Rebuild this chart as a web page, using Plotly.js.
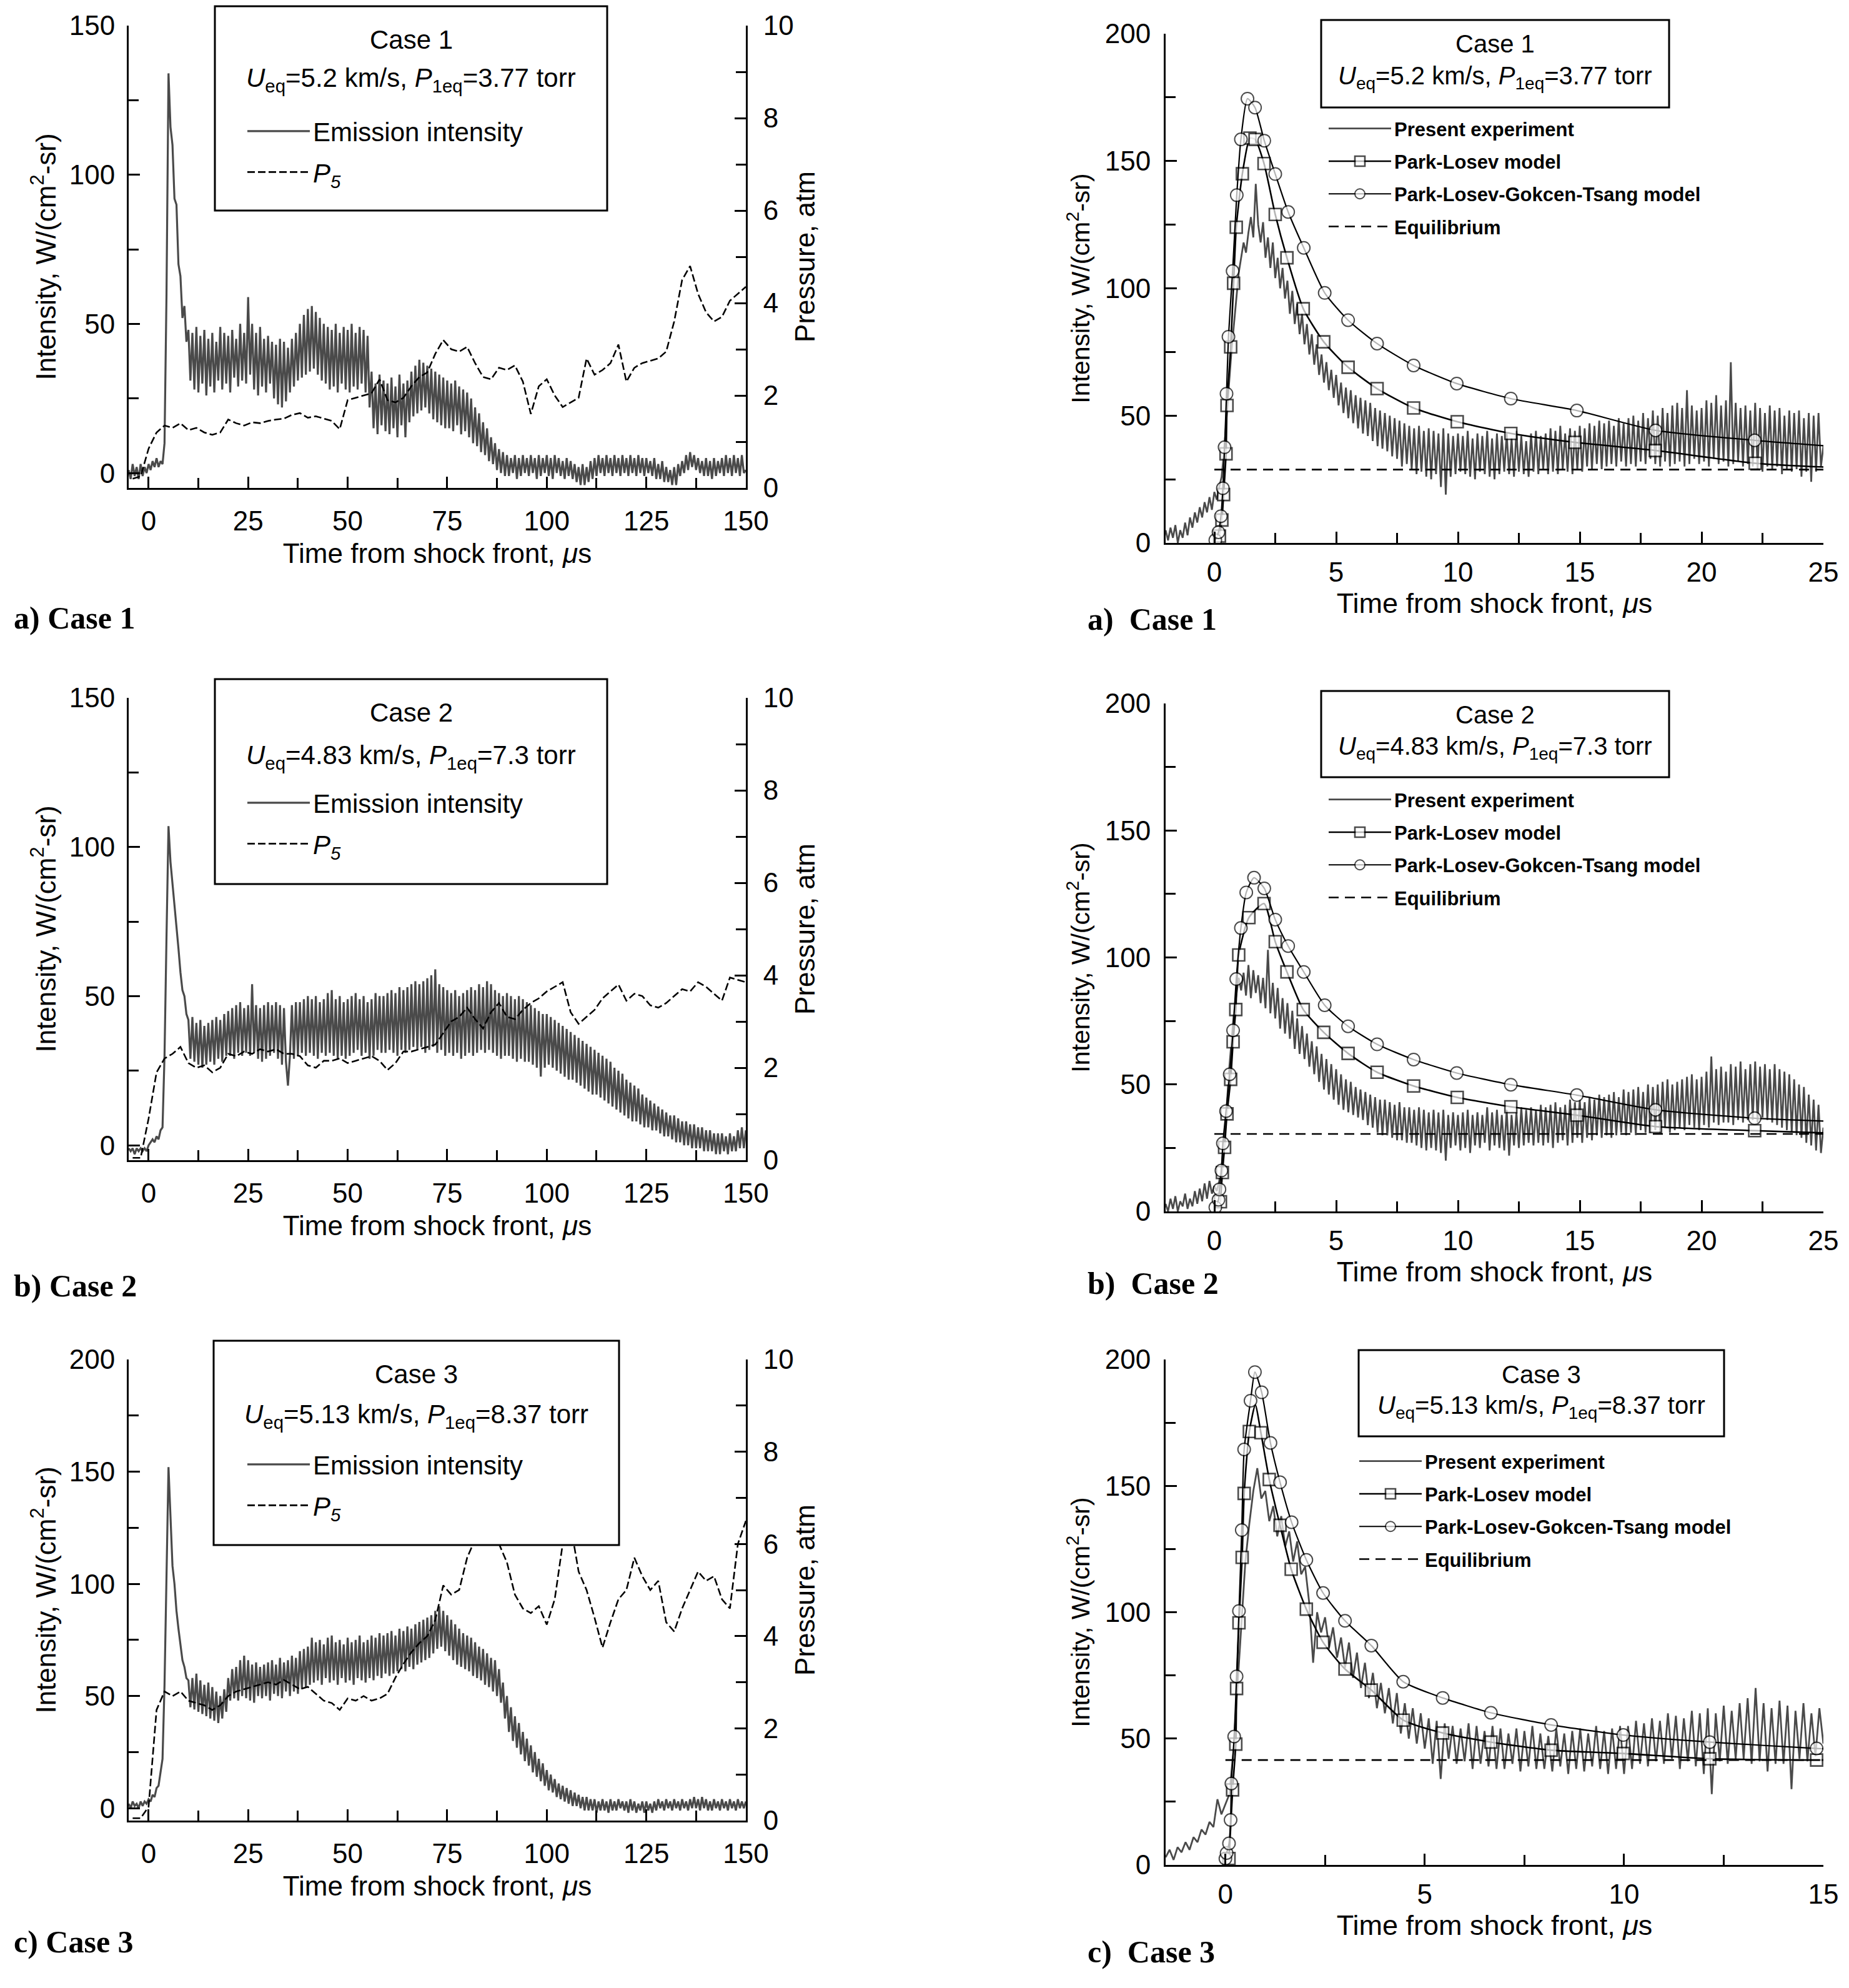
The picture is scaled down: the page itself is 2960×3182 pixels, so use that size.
<!DOCTYPE html>
<html>
<head>
<meta charset="utf-8">
<script src="https://cdn.plot.ly/plotly-3.0.1.min.js"></script>
<style>
	html, body { margin: 0; padding: 0; background: #fff; }
	#chart { width: 2960px; height: 3182px; }
</style>
</head>
<body>
<div id="chart"></div>
<script>
// ---- values ----
// left column: emission intensity, one sample every 0.5 us from t = -5 (one row = 5 us)
const case1Emission = [
	1, -2, 3, -1, 2, -2, 3, -1, 2, 0,
	3, 1, 4, 2, 5, 2, 4, 3, 10, 60,
	134, 116, 110, 92, 90, 70, 66, 52, 56, 44,
	48, 31, 47, 28, 49, 27, 46, 30, 48, 26,
	45, 29, 47, 27, 44, 31, 49, 28, 47, 30,
	46, 27, 48, 32, 45, 29, 50, 31, 47, 30,
	59, 33, 50, 28, 47, 26, 49, 29, 45, 27,
	46, 30, 44, 25, 43, 23, 45, 22, 44, 24,
	42, 27, 45, 29, 47, 31, 50, 32, 53, 33,
	55, 34, 56, 35, 54, 33, 52, 31, 50, 30,
	49, 28, 48, 29, 50, 27, 47, 30, 49, 28,
	48, 27, 50, 29, 47, 28, 49, 30, 48, 27,
	46, 22, 34, 15, 30, 13, 33, 16, 31, 14,
	30, 13, 32, 15, 29, 12, 33, 16, 30, 12,
	31, 17, 34, 19, 36, 20, 38, 21, 37, 22,
	36, 20, 35, 18, 34, 17, 33, 16, 32, 15,
	31, 15, 30, 14, 31, 16, 29, 13, 28, 14,
	27, 12, 25, 10, 22, 9, 20, 7, 17, 6,
	15, 4, 12, 3, 10, 1, 8, 0, 7, -1,
	6, -1, 5, 0, 6, -2, 5, -1, 6, 0,
	5, -1, 6, 0, 5, -2, 6, -1, 5, 0,
	6, -1, 5, -2, 6, 0, 5, -1, 4, -2,
	5, -1, 4, -2, 3, -3, 2, -4, 3, -4,
	2, -3, 4, -2, 5, -1, 6, 0, 5, -1,
	6, 0, 5, -1, 6, 0, 5, -1, 6, 0,
	5, -1, 6, 0, 5, -1, 6, 0, 5, -1,
	5, 0, 4, -1, 5, -2, 3, -2, 4, -3,
	2, -3, 1, -4, 2, -4, 3, -1, 4, 0,
	6, 1, 7, 2, 6, 1, 5, 0, 4, -1,
	5, -1, 4, -2, 5, -1, 4, 0, 5, -1,
	6, 0, 5, -1, 6, 0, 5, -1, 6, 0,
	1,
];
const case2Emission = [
	-1, -2, -1, -3, -1, -2, -1, -2, -1, -2,
	0, 1, 2, 1, 3, 2, 5, 6, 30, 70,
	107, 95, 88, 80, 74, 66, 58, 52, 50, 44,
	42, 29, 43, 28, 41, 27, 42, 26, 40, 27,
	41, 28, 42, 27, 43, 29, 42, 28, 44, 30,
	45, 30, 46, 29, 47, 31, 48, 30, 46, 31,
	47, 30, 54, 31, 47, 29, 46, 28, 47, 29,
	48, 30, 47, 31, 48, 29, 47, 27, 46, 28,
	20, 30, 47, 29, 48, 30, 48, 31, 49, 30,
	50, 31, 49, 30, 50, 29, 48, 31, 49, 30,
	51, 31, 52, 30, 49, 29, 50, 30, 48, 29,
	49, 30, 50, 31, 51, 32, 49, 30, 50, 31,
	48, 29, 49, 30, 51, 32, 50, 31, 50, 31,
	51, 32, 52, 31, 51, 30, 53, 32, 52, 31,
	53, 32, 54, 33, 55, 32, 54, 33, 55, 31,
	56, 32, 57, 33, 59, 31, 54, 32, 53, 30,
	52, 31, 51, 30, 52, 31, 50, 29, 51, 30,
	52, 31, 53, 30, 52, 31, 54, 32, 53, 31,
	55, 32, 54, 31, 52, 30, 51, 29, 50, 30,
	51, 30, 50, 29, 49, 28, 50, 29, 49, 28,
	48, 28, 47, 27, 46, 26, 45, 23, 44, 26,
	44, 27, 43, 26, 42, 25, 41, 24, 40, 23,
	39, 22, 38, 22, 37, 21, 36, 20, 35, 19,
	34, 18, 33, 17, 32, 17, 31, 16, 30, 15,
	29, 14, 28, 13, 26, 12, 25, 11, 24, 10,
	22, 9, 21, 8, 20, 8, 19, 7, 17, 6,
	16, 6, 15, 5, 14, 5, 13, 4, 12, 3,
	11, 3, 10, 2, 10, 1, 9, 1, 8, 0,
	8, 0, 7, -1, 7, -1, 6, -1, 6, -2,
	5, -2, 5, -2, 4, -3, 4, -3, 4, -2,
	3, -3, 4, -2, 3, -2, 5, -1, 6, -1,
	5,
];
const case3Emission = [
	2, 0, 3, 1, 2, 0, 3, 1, 3, 2,
	4, 3, 6, 5, 9, 10, 16, 22, 55, 110,
	152, 130, 108, 100, 88, 80, 72, 66, 63, 58,
	57, 45, 58, 44, 60, 43, 57, 42, 55, 41,
	56, 40, 54, 39, 52, 38, 50, 40, 53, 43,
	58, 48, 62, 49, 63, 48, 66, 50, 68, 49,
	66, 48, 64, 47, 65, 50, 63, 49, 64, 50,
	65, 48, 66, 51, 64, 50, 67, 49, 65, 52,
	66, 50, 68, 52, 67, 51, 70, 53, 71, 54,
	72, 55, 76, 56, 74, 57, 75, 55, 73, 58,
	76, 56, 77, 57, 74, 55, 75, 58, 73, 56,
	76, 57, 74, 55, 75, 58, 77, 57, 74, 56,
	75, 58, 77, 57, 76, 59, 78, 58, 77, 60,
	78, 59, 79, 60, 77, 61, 80, 62, 79, 61,
	81, 63, 80, 62, 82, 64, 83, 65, 84, 66,
	85, 67, 86, 69, 88, 71, 90, 72, 88, 70,
	86, 68, 84, 66, 82, 64, 80, 63, 78, 62,
	77, 61, 76, 59, 74, 58, 72, 57, 71, 55,
	69, 54, 67, 52, 66, 50, 62, 47, 56, 40,
	50, 34, 45, 30, 41, 27, 38, 24, 34, 21,
	31, 19, 28, 16, 25, 14, 22, 12, 20, 10,
	17, 8, 15, 7, 13, 5, 11, 4, 10, 3,
	9, 2, 8, 1, 7, 1, 6, 0, 5, -1,
	5, -1, 4, -1, 4, -2, 3, -1, 4, -1,
	3, -2, 4, -1, 3, -1, 4, 0, 3, -1,
	3, -2, 4, -1, 3, -2, 2, -1, 3, -2,
	3, -1, 2, -2, 3, -1, 4, 0, 3, -1,
	4, 0, 3, -1, 4, 0, 3, -1, 4, 0,
	3, -1, 4, 0, 5, 0, 4, -1, 5, 0,
	4, -1, 3, -1, 4, 0, 3, -1, 4, 0,
	3, -1, 4, 0, 3, -1, 4, 0, 3, 0,
	3,
];

// left column: P5 pressure (atm), one sample every 2 us from t = -4
const case1Pressure = [
	0.2, 0.25, 0.85, 1.2, 1.35, 1.3, 1.4, 1.25, 1.3, 1.2,
	1.15, 1.2, 1.48, 1.4, 1.35, 1.42, 1.4, 1.45, 1.48, 1.5,
	1.58, 1.62, 1.52, 1.55, 1.5, 1.45, 1.27, 1.9, 1.95, 2.0,
	2.05, 2.35, 1.9, 1.85, 1.95, 2.2, 2.4, 2.5, 2.9, 3.2,
	3.0, 2.95, 3.05, 2.7, 2.4, 2.35, 2.6, 2.55, 2.65, 2.3,
	1.6, 2.2, 2.35, 2.0, 1.75, 1.85, 1.95, 2.8, 2.45, 2.55,
	2.7, 3.1, 2.3, 2.6, 2.7, 2.75, 2.8, 2.95, 3.6, 4.5,
	4.8, 4.2, 3.8, 3.6, 3.7, 4.05, 4.2, 4.35,
];
const case2Pressure = [
	0.05, 0.05, 0.9, 1.9, 2.2, 2.3, 2.45, 2.1, 2.0, 2.05,
	1.9, 2.0, 2.3, 2.25, 2.35, 2.3, 2.4, 2.35, 2.4, 2.3,
	2.3, 2.25, 2.05, 2.0, 2.15, 2.15, 2.2, 2.1, 2.15, 2.2,
	2.25, 2.15, 1.95, 2.1, 2.35, 2.35, 2.4, 2.45, 2.5, 2.75,
	3.0, 3.1, 3.3, 3.05, 2.85, 3.2, 3.4, 3.1, 3.05, 3.25,
	3.4, 3.5, 3.65, 3.75, 3.85, 3.2, 2.95, 3.1, 3.25, 3.5,
	3.65, 3.8, 3.45, 3.6, 3.55, 3.35, 3.3, 3.4, 3.55, 3.7,
	3.65, 3.85, 3.75, 3.6, 3.45, 3.95, 3.9, 3.85,
];
const case3Pressure = [
	0.05, 0.05, 0.3, 2.4, 2.8, 2.7, 2.8, 2.6, 2.55, 2.5,
	2.4, 2.5, 2.7, 2.8, 2.85, 2.9, 2.95, 3.0, 2.95, 3.05,
	2.95, 2.85, 2.9, 2.75, 2.6, 2.55, 2.4, 2.65, 2.6, 2.7,
	2.6, 2.65, 2.75, 3.1, 3.4, 3.65, 3.85, 4.0, 4.35, 5.1,
	4.9, 5.0, 5.7, 6.1, 6.5, 6.3, 6.0, 5.6, 4.9, 4.6,
	4.5, 4.65, 4.25, 4.8, 6.0, 6.4, 5.4, 5.0, 4.4, 3.75,
	4.3, 4.8, 5.0, 5.7, 5.3, 5.0, 5.2, 4.3, 4.1, 4.6,
	5.0, 5.4, 5.2, 5.3, 4.8, 4.6, 6.0, 6.5,
];

// right column: present experiment, every 0.1 us (one row = 1 us)
// cases 1 and 2 start at t = -2
const case1Experiment = [
	5, 1, 6, 2, 7, 0, 5, 2, 8, 3,
	10, 6, 12, 8, 14, 10, 16, 12, 18, 13,
	20, 17, 22, 26, 36, 48, 62, 75, 85, 96,
	106, 112, 118, 114, 122, 128, 120, 141, 125, 118,
	126, 112, 120, 108, 118, 104, 112, 100, 108, 96,
	103, 90, 99, 86, 94, 82, 90, 78, 86, 74,
	82, 70, 78, 66, 74, 63, 71, 60, 68, 57,
	66, 54, 63, 51, 61, 49, 60, 47, 58, 45,
	57, 43, 56, 42, 55, 40, 53, 38, 52, 37,
	51, 36, 50, 34, 49, 33, 48, 30, 47, 31,
	46, 29, 45, 27, 46, 28, 44, 26, 45, 25,
	44, 27, 43, 22, 45, 19, 43, 26, 42, 27,
	43, 28, 42, 27, 44, 26, 41, 25, 43, 28,
	42, 27, 44, 26, 41, 25, 43, 27, 42, 28,
	43, 27, 41, 26, 44, 28, 42, 27, 40, 26,
	43, 28, 44, 27, 42, 29, 43, 27, 45, 28,
	44, 27, 46, 29, 43, 28, 45, 27, 44, 29,
	46, 28, 45, 30, 47, 29, 46, 31, 48, 29,
	47, 30, 48, 31, 46, 30, 49, 32, 47, 30,
	49, 31, 50, 30, 48, 32, 51, 31, 49, 33,
	52, 31, 50, 30, 53, 32, 51, 30, 54, 31,
	55, 32, 53, 30, 60, 31, 54, 33, 52, 31,
	53, 32, 56, 30, 55, 33, 58, 31, 54, 32,
	56, 30, 71, 31, 55, 32, 53, 30, 54, 31,
	52, 30, 55, 29, 53, 28, 51, 30, 54, 29,
	52, 30, 53, 27, 50, 29, 52, 28, 51, 29,
	52, 26, 49, 28, 51, 24, 50, 28, 51, 30,
	38,
];
const case2Experiment = [
	3, 0, 5, 1, 6, 0, 4, 2, 7, 1,
	5, 2, 8, 3, 9, 4, 11, 5, 12, 7,
	10, 8, 12, 18, 28, 40, 55, 66, 78, 85,
	92, 87, 94, 85, 97, 84, 95, 86, 93, 82,
	92, 80, 103, 78, 90, 76, 88, 72, 84, 70,
	82, 68, 79, 64, 76, 62, 73, 60, 70, 57,
	67, 54, 65, 51, 62, 48, 60, 46, 58, 44,
	56, 42, 54, 40, 52, 39, 51, 38, 49, 37,
	48, 36, 47, 34, 46, 33, 45, 31, 44, 30,
	44, 30, 43, 29, 42, 28, 43, 28, 41, 27,
	41, 27, 40, 26, 41, 25, 40, 24, 39, 25,
	40, 24, 39, 23, 40, 20, 38, 25, 39, 26,
	38, 24, 39, 25, 40, 23, 38, 26, 39, 25,
	38, 27, 41, 24, 39, 26, 40, 25, 38, 24,
	40, 22, 38, 26, 39, 25, 41, 26, 40, 27,
	41, 26, 40, 27, 42, 26, 41, 27, 42, 25,
	43, 27, 41, 28, 42, 26, 44, 27, 43, 29,
	44, 27, 43, 29, 45, 28, 44, 30, 46, 29,
	45, 30, 46, 29, 47, 30, 45, 31, 48, 30,
	47, 31, 48, 30, 49, 32, 47, 31, 50, 31,
	49, 32, 50, 31, 51, 33, 52, 31, 50, 32,
	51, 33, 52, 32, 53, 34, 54, 33, 52, 32,
	53, 34, 55, 33, 61, 35, 56, 34, 57, 35,
	55, 35, 58, 34, 57, 36, 59, 35, 56, 36,
	58, 36, 59, 35, 57, 37, 58, 36, 56, 35,
	58, 34, 56, 33, 55, 32, 54, 31, 52, 30,
	50, 29, 49, 27, 46, 26, 44, 24, 42, 23,
	33,
];
// case 3 starts at t = -1.5 (first row is half a microsecond)
const case3Experiment = [
	3, 6, 2, 7, 5,
	9, 6, 11, 9, 14, 12, 17, 15, 26, 20,
	24, 28, 45, 70, 95, 120, 135, 148, 157, 145,
	148, 136, 142, 130, 138, 126, 132, 120, 128, 115,
	118, 104, 80, 100, 92, 98, 86, 94, 82, 90,
	78, 88, 74, 84, 70, 80, 66, 76, 62, 72,
	60, 70, 56, 68, 52, 64, 50, 62, 48, 60,
	46, 58, 40, 57, 34, 56, 42, 55, 40, 54,
	41, 56, 38, 55, 40, 53, 39, 55, 38, 54,
	38, 52, 40, 54, 37, 53, 39, 55, 38, 52,
	38, 51, 37, 54, 39, 52, 36, 53, 38, 54,
	37, 52, 39, 55, 38, 53, 36, 54, 38, 55,
	36, 55, 38, 57, 40, 56, 39, 58, 41, 57,
	40, 60, 42, 59, 38, 58, 41, 61, 39, 60,
	36, 62, 28, 60, 41, 63, 40, 61, 42, 64,
	42, 66, 40, 70, 41, 64, 37, 62, 40, 65,
	40, 63, 30, 61, 42, 64, 41, 60, 43, 62,
	48,
];

// model curves: points along each line; the listed indices are line vertices without a marker
const case1ParkLosevT = [0.21, 0.31, 0.38, 0.48, 0.52, 0.67, 0.79, 0.9, 1.15, 1.46, 1.67, 2.04, 2.5, 2.98, 3.65, 4.49, 5.49, 6.68, 8.18, 9.97, 12.17, 14.8, 18.1, 22.2, 25];
const case1ParkLosev = [2.7, 9, 19, 35, 54, 77, 102, 124, 145, 159, 158.5, 149, 129, 112, 92, 79, 69, 60.6, 53, 47.6, 43, 39.5, 36.3, 31.3, 29.8];
const case1ParkLosevBare = [24];
const case1PlgtT = [0.04, 0.17, 0.27, 0.35, 0.42, 0.5, 0.58, 0.75, 0.92, 1.09, 1.36, 1.67, 2.05, 2.5, 3.03, 3.67, 4.53, 5.49, 6.68, 8.18, 9.95, 12.17, 14.88, 18.11, 22.18, 25];
const case1Plgt = [1.1, 4.2, 10.5, 21.5, 37.6, 58.6, 81, 106.8, 136.6, 158.5, 174.5, 171, 158, 144.9, 130, 115.9, 98.2, 87.5, 78.3, 69.7, 62.6, 56.7, 52, 44.2, 40.3, 38.2];
const case1PlgtBare = [25];

const case2ParkLosevT = [0.25, 0.33, 0.42, 0.52, 0.67, 0.77, 0.88, 1.0, 1.42, 2.04, 2.5, 2.98, 3.65, 4.49, 5.49, 6.68, 8.18, 9.97, 12.17, 14.88, 18.11, 22.18, 25];
const case2ParkLosev = [3.8, 15.3, 25.2, 38.4, 52, 66.8, 79.5, 101, 115.7, 121.2, 106.2, 94.3, 79.5, 70.5, 62.2, 54.8, 49.4, 44.9, 41.2, 37.9, 33.4, 31.8, 30.9];
const case2ParkLosevBare = [22];
const case2PlgtT = [0.04, 0.17, 0.21, 0.29, 0.35, 0.48, 0.63, 0.77, 0.9, 1.09, 1.31, 1.63, 2.05, 2.5, 3.03, 3.67, 4.53, 5.49, 6.68, 8.18, 9.95, 12.17, 14.88, 18.11, 22.18, 25];
const case2Plgt = [1.6, 4.6, 8.7, 16.1, 26.8, 39.5, 54, 71.3, 91.5, 111.6, 125.6, 131.4, 127.2, 114.9, 104.5, 94.3, 81.2, 72.9, 65.8, 59.8, 54.5, 49.9, 45.8, 40, 36.7, 35.6];
const case2PlgtBare = [25];

const case3ParkLosevT = [0.09, 0.18, 0.26, 0.28, 0.34, 0.42, 0.47, 0.6, 0.75, 0.89, 1.1, 1.37, 1.65, 2.03, 2.45, 3.0, 3.66, 4.46, 5.45, 6.66, 8.17, 9.98, 12.15, 14.83, 15];
const case3ParkLosev = [2.5, 29.7, 47.8, 69.8, 95.8, 121.7, 147, 171.5, 182, 171, 152.5, 134.4, 117, 101.2, 88.1, 77.5, 69.2, 57.3, 52.2, 48.6, 45.4, 44.1, 42, 41.5, 41.5];
const case3ParkLosevBare = [8, 24];
const case3PlgtT = [0.0, 0.03, 0.09, 0.13, 0.15, 0.22, 0.28, 0.34, 0.41, 0.47, 0.63, 0.74, 0.91, 1.13, 1.37, 1.66, 2.03, 2.45, 3.0, 3.66, 4.46, 5.45, 6.66, 8.17, 9.98, 12.15, 14.83, 15];
const case3Plgt = [2.5, 4.7, 8.5, 17.8, 32.2, 50.8, 74.6, 100.5, 132.5, 164.4, 183.7, 195, 187, 167, 151.4, 135.6, 120.7, 107.6, 96.6, 86.8, 72.5, 66.1, 60.2, 55.4, 51.4, 48.6, 46.1, 46];
const case3PlgtBare = [27];

const equilibriumT = [[0, 25], [0, 25], [0, 15]];
const equilibrium = [28.8, 30.5, 41.5];

const caseNames = ['Case 1', 'Case 2', 'Case 3'];
const caseConditions = [
	'<i>U</i><sub>eq</sub>=5.2 km/s, <i>P</i><sub>1eq</sub>=3.77 torr',
	'<i>U</i><sub>eq</sub>=4.83 km/s, <i>P</i><sub>1eq</sub>=7.3 torr',
	'<i>U</i><sub>eq</sub>=5.13 km/s, <i>P</i><sub>1eq</sub>=8.37 torr',
];
const panelLetters = ['a)', 'b)', 'c)'];

// ---- page geometry (pixels) ----
const W = 2960;
const H = 3182;
const px = (x) => x / W;
const py = (y) => 1 - y / H;

const FONT = 'Liberation Sans, Arial, sans-serif';
const SERIF = 'Liberation Serif, Times New Roman, serif';
const GREY = '#4a4a4a';

const leftCol = [206, 1194];
const rightCol = [1866, 2919];
const leftRows = [[41, 781], [1117, 1857], [2176, 2914]];
const rightRows = [[54, 869], [1126, 1939], [2176, 2985]];

function sampleTimes(start, step, n) {
	return Array.from({ length: n }, (_, i) => +(start + i * step).toFixed(4));
}

function markerSizes(n, size, bare) {
	return Array.from({ length: n }, (_, i) => (bare.includes(i) ? 0 : size));
}

function axis(extra) {
	return Object.assign(
		{
			showline: true,
			linecolor: '#000',
			linewidth: 3,
			ticks: 'inside',
			ticklen: 18,
			tickwidth: 3,
			tickcolor: '#000',
			showgrid: false,
			zeroline: false,
			fixedrange: true,
			tickfont: { family: FONT, size: 44, color: '#000' },
		},
		extra
	);
}

function minor(dtick) {
	return { dtick, ticks: 'inside', ticklen: 16, tickwidth: 3, tickcolor: '#000', showgrid: false };
}

const timeTitle = 'Time from shock front, <i>μ</i>s';
const intensityTitle = 'Intensity, W/(cm<sup>2</sup>-sr)';

const data = [];
const layout = {
	width: W,
	height: H,
	margin: { l: 0, r: 0, t: 0, b: 0 },
	paper_bgcolor: '#fff',
	plot_bgcolor: 'rgba(0,0,0,0)',
	font: { family: FONT, color: '#000', size: 40 },
	showlegend: true,
	shapes: [],
	annotations: [],
};

const leftEmission = [case1Emission, case2Emission, case3Emission];
const leftPressure = [case1Pressure, case2Pressure, case3Pressure];
const leftYRange = [[-5, 150], [-5, 150], [-5.5, 200]];
const leftBoxes = [[344, 10, 972, 337], [344, 1087, 972, 1415], [342, 2146, 991, 2473]];
const leftTextY = [[64, 128], [1140, 1211], [2199, 2266]];
const leftLegendTop = [176, 1251, 2310];
const leftLabelY = [989, 2058, 3108];

leftRows.forEach((row, i) => {
	const xId = i === 0 ? 'x' : 'x' + (i + 1);
	const yId = 'y' + (2 * i + 1 === 1 ? '' : 2 * i + 1);
	const y2Id = 'y' + (2 * i + 2);
	const legendId = i === 0 ? 'legend' : 'legend' + (i + 1);
	const box = leftBoxes[i];

	data.push({
		type: 'scatter',
		mode: 'lines',
		x: sampleTimes(-5, 0.5, leftEmission[i].length),
		y: leftEmission[i],
		xaxis: xId,
		yaxis: yId,
		name: 'Emission intensity',
		line: { color: GREY, width: 3.2 },
		legend: legendId,
		legendgroup: legendId + 'e',
		hoverinfo: 'skip',
	});
	data.push({
		type: 'scatter',
		mode: 'lines',
		x: sampleTimes(-4, 2, leftPressure[i].length),
		y: leftPressure[i],
		xaxis: xId,
		yaxis: y2Id,
		name: '<i>P</i><sub><i>5</i></sub>',
		line: { color: '#000', width: 2.6, dash: '12px,5px' },
		legend: legendId,
		legendgroup: legendId + 'p',
		hoverinfo: 'skip',
	});

	layout[xId.replace('x', 'xaxis')] = axis({
		domain: [px(leftCol[0]), px(leftCol[1])],
		anchor: yId,
		range: [-5, 150],
		tick0: 0,
		dtick: 25,
		minor: minor(12.5),
		ticklabelstandoff: 12,
		title: { text: timeTitle, font: { family: FONT, size: 44 }, standoff: 14 },
	});
	layout[yId.replace('y', 'yaxis')] = axis({
		domain: [py(row[1]), py(row[0])],
		anchor: xId,
		range: leftYRange[i],
		tick0: 0,
		dtick: 50,
		minor: minor(25),
		ticklabelstandoff: 10,
		title: { text: intensityTitle, font: { family: FONT, size: 44 }, standoff: 8 },
	});
	layout[y2Id.replace('y', 'yaxis')] = axis({
		overlaying: yId,
		side: 'right',
		anchor: xId,
		range: [0, 10],
		tick0: 0,
		dtick: 2,
		minor: minor(1),
		ticklabelstandoff: 16,
		title: { text: 'Pressure, atm', font: { family: FONT, size: 44 }, standoff: 4 },
	});

	layout[legendId] = {
		x: px(391),
		y: py(leftLegendTop[i]),
		xanchor: 'left',
		yanchor: 'top',
		xref: 'paper',
		yref: 'paper',
		bgcolor: 'rgba(0,0,0,0)',
		borderwidth: 0,
		itemwidth: 100,
		traceorder: 'grouped',
		tracegroupgap: 8,
		font: { family: FONT, size: 42, color: '#000' },
	};

	layout.shapes.push({
		type: 'rect',
		xref: 'paper',
		yref: 'paper',
		x0: px(box[0]),
		x1: px(box[2]),
		y0: py(box[3]),
		y1: py(box[1]),
		line: { color: '#000', width: 3 },
		fillcolor: '#fff',
		layer: 'above',
	});
	const cx = px((box[0] + box[2]) / 2);
	layout.annotations.push(
		{ text: caseNames[i], x: cx, y: py(leftTextY[i][0]), xref: 'paper', yref: 'paper', showarrow: false, xanchor: 'center', yanchor: 'middle', font: { family: FONT, size: 42 } },
		{ text: caseConditions[i], x: cx, y: py(leftTextY[i][1]), xref: 'paper', yref: 'paper', showarrow: false, xanchor: 'center', yanchor: 'middle', font: { family: FONT, size: 42 } },
		{ text: panelLetters[i] + ' ' + caseNames[i], x: px(20), y: py(leftLabelY[i]), xref: 'paper', yref: 'paper', showarrow: false, xanchor: 'left', yanchor: 'middle', font: { family: SERIF, size: 50, weight: 'bold' } }
	);
});

const rightExperiment = [case1Experiment, case2Experiment, case3Experiment];
const rightStart = [-2, -2, -1.5];
const rightXRange = [[-2, 25], [-2, 25], [-1.5, 15]];
const parkLosevT = [case1ParkLosevT, case2ParkLosevT, case3ParkLosevT];
const parkLosev = [case1ParkLosev, case2ParkLosev, case3ParkLosev];
const parkLosevBare = [case1ParkLosevBare, case2ParkLosevBare, case3ParkLosevBare];
const plgtT = [case1PlgtT, case2PlgtT, case3PlgtT];
const plgt = [case1Plgt, case2Plgt, case3Plgt];
const plgtBare = [case1PlgtBare, case2PlgtBare, case3PlgtBare];
const rightBoxes = [[2115, 32, 2672, 172], [2115, 1106, 2672, 1244], [2175, 2161, 2760, 2299]];
const rightTextY = [[70, 124], [1144, 1197], [2200, 2252]];
const rightLegend = [[2122, 179], [2122, 1253], [2171, 2312]];
const rightLabelY = [991, 2054, 3124];

rightRows.forEach((row, i) => {
	const n = i + 4;
	const xId = 'x' + n;
	const yId = 'y' + (n + 3);
	const legendId = 'legend' + n;
	const box = rightBoxes[i];
	const common = { type: 'scatter', xaxis: xId, yaxis: yId, legend: legendId, hoverinfo: 'skip' };

	data.push(Object.assign({}, common, {
		mode: 'lines',
		x: sampleTimes(rightStart[i], 0.1, rightExperiment[i].length),
		y: rightExperiment[i],
		name: 'Present experiment',
		line: { color: GREY, width: 2.8 },
		legendgroup: legendId + 'a',
	}));
	data.push(Object.assign({}, common, {
		mode: 'lines+markers',
		x: parkLosevT[i],
		y: parkLosev[i],
		name: 'Park-Losev model',
		line: { color: '#000', width: 2.6, shape: 'spline', smoothing: 0.6 },
		marker: { symbol: 'square', size: markerSizes(parkLosev[i].length, 19, parkLosevBare[i]), color: '#fff', line: { color: '#000', width: 2.6 } },
		legendgroup: legendId + 'b',
	}));
	data.push(Object.assign({}, common, {
		mode: 'lines+markers',
		x: plgtT[i],
		y: plgt[i],
		name: 'Park-Losev-Gokcen-Tsang model',
		line: { color: '#000', width: 2.2, shape: 'spline', smoothing: 0.6 },
		marker: { symbol: 'circle', size: markerSizes(plgt[i].length, 20, plgtBare[i]), color: '#fff', line: { color: '#000', width: 2 } },
		legendgroup: legendId + 'c',
	}));
	data.push(Object.assign({}, common, {
		mode: 'lines',
		x: equilibriumT[i],
		y: [equilibrium[i], equilibrium[i]],
		name: 'Equilibrium',
		line: { color: '#000', width: 2.6, dash: '16px,10px' },
		legendgroup: legendId + 'd',
	}));

	layout['xaxis' + n] = axis({
		domain: [px(rightCol[0]), px(rightCol[1])],
		anchor: yId,
		range: rightXRange[i],
		tick0: 0,
		dtick: 5,
		minor: minor(2.5),
		ticklabelstandoff: 6,
		title: { text: timeTitle, font: { family: FONT, size: 45 }, standoff: 4 },
	});
	layout['yaxis' + (n + 3)] = axis({
		domain: [py(row[1]), py(row[0])],
		anchor: xId,
		range: [0, 200],
		tick0: 0,
		dtick: 50,
		minor: minor(25),
		ticklabelstandoff: 12,
		title: { text: intensityTitle, font: { family: FONT, size: 41 }, standoff: 12 },
	});

	layout[legendId] = {
		x: px(rightLegend[i][0]),
		y: py(rightLegend[i][1]),
		xanchor: 'left',
		yanchor: 'top',
		xref: 'paper',
		yref: 'paper',
		bgcolor: 'rgba(0,0,0,0)',
		borderwidth: 0,
		itemwidth: 100,
		traceorder: 'grouped',
		tracegroupgap: 9,
		font: { family: FONT, size: 31, color: '#000', weight: 'bold' },
	};

	layout.shapes.push({
		type: 'rect',
		xref: 'paper',
		yref: 'paper',
		x0: px(box[0]),
		x1: px(box[2]),
		y0: py(box[3]),
		y1: py(box[1]),
		line: { color: '#000', width: 3 },
		fillcolor: '#fff',
		layer: 'above',
	});
	const cx = px((box[0] + box[2]) / 2);
	layout.annotations.push(
		{ text: caseNames[i], x: cx, y: py(rightTextY[i][0]), xref: 'paper', yref: 'paper', showarrow: false, xanchor: 'center', yanchor: 'middle', font: { family: FONT, size: 40 } },
		{ text: caseConditions[i], x: cx, y: py(rightTextY[i][1]), xref: 'paper', yref: 'paper', showarrow: false, xanchor: 'center', yanchor: 'middle', font: { family: FONT, size: 40 } },
		{ text: panelLetters[i] + '\u00a0\u00a0' + caseNames[i], x: px(1739), y: py(rightLabelY[i]), xref: 'paper', yref: 'paper', showarrow: false, xanchor: 'left', yanchor: 'middle', font: { family: SERIF, size: 50, weight: 'bold' } }
	);
});

const config = { displayModeBar: false, staticPlot: true };
Plotly.newPlot('chart', data, layout, config);
</script>
</body>
</html>
